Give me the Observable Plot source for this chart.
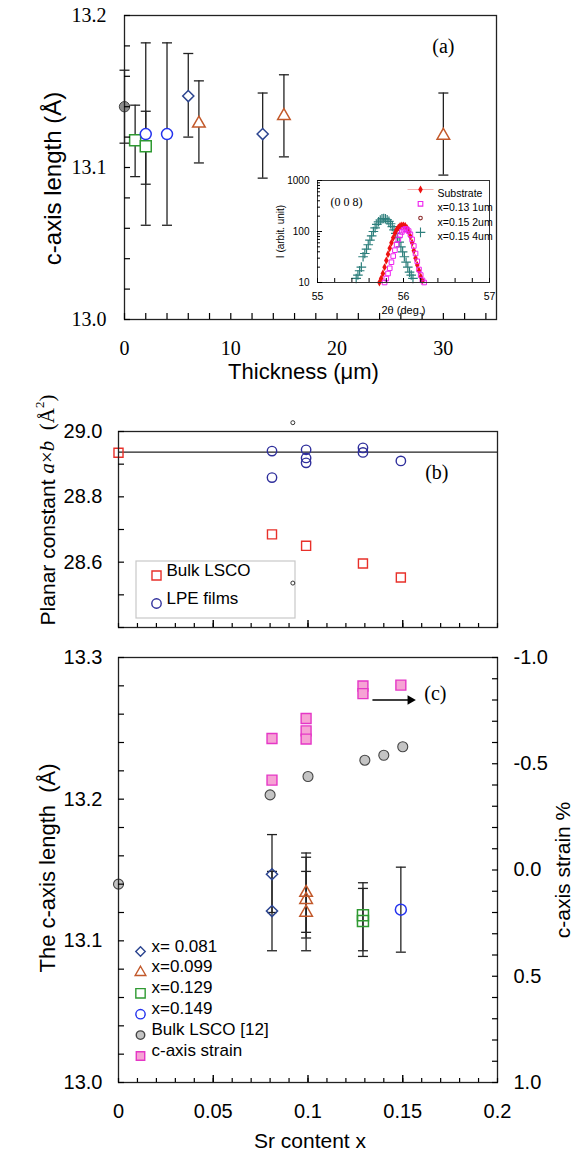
<!DOCTYPE html>
<html><head><meta charset="utf-8">
<script src="https://cdn.jsdelivr.net/npm/d3@7"></script>
<script src="https://cdn.jsdelivr.net/npm/@observablehq/plot@0.6"></script>
<style>
body{margin:0;background:#fff;}
#wrap{position:relative;width:578px;height:1160px;overflow:hidden;background:#fff;}
#wrap svg{position:absolute;overflow:visible;background:transparent;}
</style></head><body><div id="wrap"></div>
<script>
// ---------- Panel (a): c-axis length vs thickness ----------
const aThickness = [0, 1, 2, 2, 4, 6, 7, 13, 15, 30];
const aC    = [13.140, 13.118, 13.114, 13.122, 13.122, 13.147, 13.129, 13.122, 13.134, 13.121];
const aLow  = [13.116, 13.094, 13.089, 13.062, 13.062, 13.120, 13.103, 13.093, 13.107, 13.095];
const aHigh = [13.164, 13.141, 13.137, 13.182, 13.182, 13.175, 13.157, 13.149, 13.161, 13.149];
const aGroup = ["Bulk LSCO [12]", "x=0.129", "x=0.129", "x=0.149", "x=0.149", "x= 0.081", "x=0.099", "x= 0.081", "x=0.099", "x=0.099"];

// ---------- Inset: (0 0 8) peak ----------
const subX = [55.72,55.74,55.76,55.78,55.80,55.82,55.84,55.86,55.88,55.90,55.92,55.94,55.96,55.98,56.00,56.02,56.04,56.06,56.08,56.10,56.12,56.14,56.16,56.18,56.20,56.22];
const subY = [10,12,15,20,27,36,47,60,75,92,108,120,128,132,132,128,118,100,80,60,42,30,22,17,13,11];
const magX = [55.78,55.80,55.82,55.84,55.86,55.88,55.90,55.92,55.94,55.96,55.98,56.00,56.02,56.04,56.06,56.08,56.10,56.12,56.14,56.16,56.18,56.20,56.22,56.24];
const magY = [10,12,15,19,25,33,43,55,70,85,98,108,112,110,102,88,70,52,37,26,18,14,11,10];
const tealX = [55.45,55.47,55.49,55.51,55.53,55.55,55.57,55.59,55.61,55.63,55.65,55.67,55.69,55.71,55.73,55.75,55.77,55.79,55.81,55.83,55.85,55.87,55.89,55.91,55.93,55.95,55.97,55.99,56.01,56.03,56.05,56.07,56.09,56.11];
const tealY = [12,14,17,20,32,37,45,55,68,82,100,118,138,155,168,178,180,178,170,158,142,125,108,92,76,62,50,40,32,25,20,16,14,12];
const insetLegend = ["Substrate", "x=0.13 1um", "x=0.15 2um", "x=0.15 4um"];

// ---------- Panel (b): planar constant ----------
const bBulkX = [0, 0.081, 0.099, 0.129, 0.149];
const bBulkY = [28.935, 28.685, 28.650, 28.596, 28.553];
const bFilmX = [0.081, 0.081, 0.099, 0.099, 0.099, 0.129, 0.129, 0.149];
const bFilmY = [28.940, 28.859, 28.944, 28.919, 28.904, 28.950, 28.936, 28.910];
const bRefLine = [28.937];
const bSmallX = [0.092, 0.092];
const bSmallY = [29.027, 28.536];
const bLegend = ["Bulk LSCO", "LPE films"];

// ---------- Panel (c): c-axis length & strain vs Sr content ----------
const cX    = [0.081, 0.081, 0.099, 0.099, 0.099, 0.129, 0.129, 0.149];
const cC    = [13.147, 13.121, 13.134, 13.129, 13.120, 13.118, 13.114, 13.122];
const cLow  = [13.120, 13.093, 13.106, 13.102, 13.093, 13.093, 13.089, 13.092];
const cHigh = [13.175, 13.149, 13.162, 13.159, 13.149, 13.141, 13.137, 13.152];
const cGroup = ["x= 0.081", "x= 0.081", "x=0.099", "x=0.099", "x=0.099", "x=0.129", "x=0.129", "x=0.149"];
const cBulkX = [0, 0.08, 0.10, 0.13, 0.14, 0.15];
const cBulkC = [13.140, 13.203, 13.216, 13.2275, 13.231, 13.237];
const strainX = [0.081, 0.081, 0.099, 0.099, 0.099, 0.129, 0.129, 0.149];
const strainVal = [-0.619, -0.423, -0.713, -0.655, -0.616, -0.866, -0.830, -0.870];
const arrowX = [0.134, 0.157];
const arrowC = [13.270];
const cLegend = ["x= 0.081", "x=0.099", "x=0.129", "x=0.149", "Bulk LSCO [12]", "c-axis strain"];
const strainTicks = [-1.0, -0.5, 0.0, 0.5, 1.0];

// ---------- styles ----------
const SANS = "Liberation Sans, Arial, sans-serif";
const SERIF = "Liberation Serif, Times New Roman, serif";
const sty = {
  "x= 0.081": {symbol: "diamond2", stroke: "#2c4590", fill: "none", r: 5},
  "x=0.099": {symbol: "triangle2", stroke: "#c2592b", fill: "none", r: 6},
  "x=0.129": {symbol: "square", stroke: "#2f9a32", fill: "none", r: 6.2},
  "x=0.149": {symbol: "circle", stroke: "#2433ee", fill: "none", r: 5.5},
  "Bulk LSCO [12]": {symbol: "circle", stroke: "#444", fill: "#c4c4c4", r: 5},
  "c-axis strain": {symbol: "square", stroke: "#e537c6", fill: "#f6a3d4", r: 5.6}
};
const cap = {draw(ctx, size) { const w = Math.sqrt(size / Math.PI); ctx.moveTo(-w, 0); ctx.lineTo(w, 0); }};
const wrap = document.getElementById("wrap");
function place(svg, left, top) { svg.style.left = left + "px"; svg.style.top = top + "px"; wrap.appendChild(svg); }

// strain <-> c-axis mapping for the right axis of (c)
const s2c = s => 13.15 - 0.15 * s;

// ===== Panel (a) =====
const aRows = aThickness.map((t, i) => ({t, c: aC[i], lo: aLow[i], hi: aHigh[i], g: aGroup[i]}));
const aGroupsOrder = ["x=0.129", "x=0.149", "x= 0.081", "x=0.099"];
const plotA = Plot.plot({
  width: 578, height: 395,
  marginLeft: 124, marginRight: 82, marginTop: 15, marginBottom: 76,
  x: {domain: [0, 35]}, y: {domain: [13.0, 13.2]},
  style: {fontFamily: SERIF, fontSize: "20px", background: "transparent", overflow: "visible"},
  marks: [
    Plot.ruleX(aRows, {x: "t", y1: "lo", y2: "hi", stroke: "#222", strokeWidth: 1.3}),
    Plot.dot(aRows, {x: "t", y: "lo", symbol: cap, r: 5, stroke: "#222", fill: "none", strokeWidth: 1.3}),
    Plot.dot(aRows, {x: "t", y: "hi", symbol: cap, r: 5, stroke: "#222", fill: "none", strokeWidth: 1.3}),
    Plot.dot(aRows.filter(d => d.g === "Bulk LSCO [12]"), {x: "t", y: "c", symbol: "circle", r: 5.2, fill: "#8c8c8c", stroke: "#444", strokeWidth: 1}),
    ...aGroupsOrder.map(g => Plot.dot(aRows.filter(d => d.g === g), {x: "t", y: "c", symbol: sty[g].symbol, r: sty[g].r, stroke: sty[g].stroke, fill: "white", strokeWidth: 1.5})),
    Plot.frame({stroke: "#222", strokeWidth: 1.3}),
    Plot.axisY({ticks: [13.0, 13.1, 13.2], tickSize: 0, tickPadding: 18, tickFormat: d => d.toFixed(1), label: null, fontSize: 20, fontFamily: SERIF}),
    Plot.axisY({ticks: d3.range(0, 11).map(i => 13 + i * 0.02), tickSize: 6, dx: 6, tickFormat: () => "", label: null, strokeWidth: 1.2}),
    Plot.axisX({ticks: [0, 10, 20, 30], tickSize: 0, tickPadding: 21, label: null, fontSize: 20, fontFamily: SERIF}),
    Plot.axisX({ticks: d3.range(0, 35.001, 2), tickSize: 6, dy: -6, tickFormat: () => "", label: null, strokeWidth: 1.2}),
    Plot.text(["(a)"], {text: d => d, frameAnchor: "top-right", dx: -42, dy: 23, fontSize: 20, fontFamily: SERIF}),
    Plot.text(["c-axis length (Å)"], {text: d => d, frameAnchor: "left", textAnchor: "middle", dx: -71, dy: 11, rotate: -90, fontSize: 24, fontFamily: SANS}),
    Plot.text(["Thickness (μm)"], {text: d => d, frameAnchor: "bottom", textAnchor: "middle", dx: -7, dy: 59, fontSize: 22, fontFamily: SANS})
  ]
});
place(plotA, 0, 0);

// ===== Inset =====
const subRows = subX.map((x, i) => ({x, y: subY[i]}));
const magRows = magX.map((x, i) => ({x, y: magY[i]}));
const tealRows = tealX.map((x, i) => ({x, y: tealY[i]}));
const logMinor = [20,30,40,50,60,70,80,90,200,300,400,500,600,700,800,900];
const insetSym = [
  {symbol: "diamond", fill: "#ee1111", stroke: "none", r: 2.4},
  {symbol: "square", fill: "none", stroke: "#ee22ee", r: 2.6},
  {symbol: "circle", fill: "none", stroke: "#8b2a2a", r: 1.8},
  {symbol: "plus", fill: "none", stroke: "#2d7f7c", r: 3.2}
];
const plotInset = Plot.plot({
  width: 250, height: 150,
  marginLeft: 67, marginRight: 11, marginTop: 10, marginBottom: 38,
  x: {domain: [55, 57]}, y: {type: "log", domain: [10, 1000]},
  style: {fontFamily: SANS, fontSize: "10px", background: "transparent", overflow: "visible"},
  marks: [
    Plot.line(subRows, {x: "x", y: "y", stroke: "#f6b0b0", strokeWidth: 1}),
    Plot.dot(tealRows, {x: "x", y: "y", symbol: "plus", r: 3.2, stroke: "#2d7f7c", strokeWidth: 1.2}),
    Plot.dot(subRows, {x: "x", y: "y", symbol: "diamond", r: 2.4, fill: "#ee1111"}),
    Plot.dot(magRows, {x: "x", y: "y", symbol: "square", r: 2.6, stroke: "#ee22ee", fill: "none", strokeWidth: 1}),
    Plot.frame({stroke: "#333", strokeWidth: 1}),
    Plot.axisY({ticks: [10, 100, 1000], tickSize: 0, tickPadding: 8, tickFormat: d => String(d), label: null, fontSize: 10}),
    Plot.axisY({ticks: [10, 100, 1000], tickSize: 5, dx: 5, tickFormat: () => "", label: null}),
    Plot.axisY({ticks: logMinor, tickSize: 3, dx: 3, tickFormat: () => "", label: null}),
    Plot.axisX({ticks: [55, 56, 57], tickSize: 0, tickPadding: 10, tickFormat: d => String(d), label: null, fontSize: 10.5}),
    Plot.axisX({ticks: d3.range(0, 11).map(i => 55 + i * 0.2), tickSize: 4, dy: -4, tickFormat: () => "", label: null}),
    Plot.text(["(0 0 8)"], {text: d => d, frameAnchor: "top-left", textAnchor: "start", dx: 13, dy: 17, fontSize: 12, fontFamily: SERIF}),
    Plot.text(["2θ (deg.)"], {text: d => d, frameAnchor: "bottom", textAnchor: "middle", dy: 31, fontSize: 11}),
    Plot.text(["I (arbit. unit)"], {text: d => d, frameAnchor: "left", textAnchor: "middle", dx: -37, rotate: -90, fontSize: 10}),
    Plot.dot([0], {frameAnchor: "top-left", dx: 103, dy: 9, symbol: cap, r: 13, stroke: "#f6b0b0", fill: "none", strokeWidth: 1}),
    ...insetLegend.map((label, i) => Plot.dot([label], {frameAnchor: "top-left", dx: 103, dy: 9 + i * 14.3, symbol: insetSym[i].symbol, r: insetSym[i].r, fill: insetSym[i].fill, stroke: insetSym[i].stroke, strokeWidth: 1.1})),
    ...insetLegend.map((label, i) => Plot.text([label], {text: d => d, frameAnchor: "top-left", textAnchor: "start", dx: 120, dy: 9 + i * 14.3, fontSize: 10.5}))
  ]
});
place(plotInset, 250, 170);

// ===== Panel (b) =====
const bBulk = bBulkX.map((x, i) => ({x, y: bBulkY[i]}));
const bFilm = bFilmX.map((x, i) => ({x, y: bFilmY[i]}));
const bSmall = bSmallX.map((x, i) => ({x, y: bSmallY[i]}));
const bSym = [{symbol: "square", stroke: "#e8302a", r: 5.1}, {symbol: "circle", stroke: "#2f2f9c", r: 4.7}];
const plotB = Plot.plot({
  width: 578, height: 250,
  marginLeft: 118, marginRight: 81, marginTop: 41, marginBottom: 13,
  x: {domain: [0, 0.2]}, y: {domain: [28.4, 29.0]},
  clip: false,
  style: {fontFamily: SANS, fontSize: "20px", background: "transparent", overflow: "visible"},
  marks: [
    Plot.ruleY(bRefLine, {stroke: "#222", strokeWidth: 1.4}),
    Plot.dot(bSmall, {x: "x", y: "y", r: 2, stroke: "#333", fill: "none", strokeWidth: 1}),
    Plot.dot(bBulk, {x: "x", y: "y", symbol: "square", r: 5.1, stroke: "#e8302a", fill: "none", strokeWidth: 1.4}),
    Plot.dot(bFilm, {x: "x", y: "y", symbol: "circle", r: 4.7, stroke: "#2f2f9c", fill: "none", strokeWidth: 1.4}),
    Plot.frame({stroke: "#222", strokeWidth: 1.3}),
    Plot.axisY({ticks: [28.6, 28.8, 29.0], tickSize: 0, tickPadding: 16, tickFormat: d => d.toFixed(1), label: null, fontSize: 20}),
    Plot.axisY({ticks: d3.range(0, 7).map(i => 28.4 + i * 0.1), tickSize: 6, dx: 6, tickFormat: () => "", label: null, strokeWidth: 1.2}),
    Plot.axisX({ticks: d3.range(0, 21).map(i => i * 0.01), tickSize: 4, dy: -4, tickFormat: () => "", label: null, strokeWidth: 1.2}),
    Plot.axisX({ticks: [0.05, 0.1, 0.15], tickSize: 7, dy: -7, tickFormat: () => "", label: null, strokeWidth: 1.4}),
    Plot.text(["(b)"], {text: d => d, frameAnchor: "top-right", dx: -49, dy: 33, fontSize: 20, fontFamily: SERIF}),
    ...bLegend.map((label, i) => Plot.dot([label], {frameAnchor: "bottom-left", dx: 38, dy: -52 + i * 28, symbol: bSym[i].symbol, r: bSym[i].r, stroke: bSym[i].stroke, fill: "none", strokeWidth: 1.4})),
    ...bLegend.map((label, i) => Plot.text([label], {text: d => d, frameAnchor: "bottom-left", textAnchor: "start", dx: 48, dy: -52 + i * 28, fontSize: 17}))
  ]
});
// legend box and mixed-style y title
{
  const s = d3.select(plotB);
  s.insert("rect", ":first-child").attr("x", 136).attr("y", 171).attr("width", 159).attr("height", 57)
    .attr("fill", "none").attr("stroke", "#c8c8c8").attr("stroke-width", 1.2);
  const t = s.append("text").attr("transform", "translate(49,120) rotate(-90)")
    .attr("text-anchor", "middle").attr("dominant-baseline", "middle").attr("font-size", 21).attr("fill", "#000");
  t.append("tspan").attr("font-family", SANS).text("Planar constant ");
  t.append("tspan").attr("font-family", SERIF).attr("font-style", "italic").text("a");
  t.append("tspan").attr("font-family", SERIF).text("×");
  t.append("tspan").attr("font-family", SERIF).attr("font-style", "italic").text("b");
  t.append("tspan").attr("font-family", SERIF).text("  (Å");
  t.append("tspan").attr("font-family", SERIF).attr("font-size", 13).attr("dy", -8).text("2");
  t.append("tspan").attr("font-family", SERIF).attr("dy", 8).text(")");
}
place(plotB, 0, 390);

// ===== Panel (c) =====
const cRows = cX.map((x, i) => ({x, c: cC[i], lo: cLow[i], hi: cHigh[i], g: cGroup[i]}));
const cBulk = cBulkX.map((x, i) => ({x, c: cBulkC[i]}));
const strainRows = strainX.map((x, i) => ({x, c: s2c(strainVal[i])}));
const arrowRows = [{x1: arrowX[0], x2: arrowX[1], c: arrowC[0]}];
const plotC = Plot.plot({
  width: 578, height: 520,
  marginLeft: 118, marginRight: 81, marginTop: 17, marginBottom: 78,
  x: {domain: [0, 0.2]}, y: {domain: [13.0, 13.3]},
  style: {fontFamily: SANS, fontSize: "20px", background: "transparent", overflow: "visible"},
  marks: [
    Plot.ruleX(cRows, {x: "x", y1: "lo", y2: "hi", stroke: "#222", strokeWidth: 1.3}),
    Plot.dot(cRows, {x: "x", y: "lo", symbol: cap, r: 5, stroke: "#222", fill: "none", strokeWidth: 1.3}),
    Plot.dot(cRows, {x: "x", y: "hi", symbol: cap, r: 5, stroke: "#222", fill: "none", strokeWidth: 1.3}),
    ...["x= 0.081", "x=0.099", "x=0.129", "x=0.149"].map(g => Plot.dot(cRows.filter(d => d.g === g), {x: "x", y: "c", symbol: sty[g].symbol, r: sty[g].r, stroke: sty[g].stroke, fill: "none", strokeWidth: 1.5})),
    Plot.dot(cBulk, {x: "x", y: "c", symbol: "circle", r: 5, fill: "#c4c4c4", stroke: "#444", strokeWidth: 1.1}),
    Plot.dot(strainRows, {x: "x", y: "c", symbol: "square", r: 5.6, fill: "#f6a3d4", stroke: "#e537c6", strokeWidth: 1.4}),
    Plot.link(arrowRows, {x1: "x1", x2: d => d.x2 - 0.004, y1: "c", y2: "c", stroke: "#000", strokeWidth: 1.5}),
    Plot.dot(arrowRows, {x: d => d.x2 - 0.003, y: "c", symbol: "triangle2", rotate: 90, r: 4.6, fill: "#000"}),
    Plot.frame({stroke: "#222", strokeWidth: 1.3}),
    Plot.axisY({ticks: [13.0, 13.1, 13.2, 13.3], tickSize: 0, tickPadding: 16, tickFormat: d => d.toFixed(1), label: null, fontSize: 20}),
    Plot.axisY({ticks: d3.range(0, 16).map(i => 13 + i * 0.02), tickSize: 6, dx: 6, tickFormat: () => "", label: null, strokeWidth: 1.2}),
    Plot.axisY({anchor: "right", ticks: strainTicks.map(s2c), tickSize: 0, tickPadding: 16,
      tickFormat: c => { const s = Math.round((13.15 - c) / 0.15 * 10) / 10; return (s === 0 ? 0 : s).toFixed(1); }, label: null, fontSize: 20}),
    Plot.axisY({anchor: "right", ticks: d3.range(0, 21).map(i => s2c(-1 + i * 0.1)), tickSize: 6, dx: -6, tickFormat: () => "", label: null, strokeWidth: 1.2}),
    Plot.axisX({ticks: [0, 0.05, 0.1, 0.15, 0.2], tickSize: 0, tickPadding: 21, tickFormat: d => String(d), label: null, fontSize: 20}),
    Plot.axisX({ticks: d3.range(0, 21).map(i => i * 0.01), tickSize: 4, dy: -4, tickFormat: () => "", label: null, strokeWidth: 1.2}),
    Plot.axisX({ticks: [0.05, 0.1, 0.15], tickSize: 7, dy: -7, tickFormat: () => "", label: null, strokeWidth: 1.4}),
    Plot.text(["(c)"], {text: d => d, frameAnchor: "top-right", dx: -51, dy: 28, fontSize: 20, fontFamily: SERIF}),
    Plot.text(["The c-axis length  (Å)"], {text: d => d, frameAnchor: "left", textAnchor: "middle", dx: -71, dy: -2, rotate: -90, fontSize: 22}),
    Plot.text(["c-axis strain %"], {text: d => d, frameAnchor: "right", textAnchor: "middle", dx: 66, dy: 0, rotate: -90, fontSize: 21}),
    Plot.text(["Sr content x"], {text: d => d, frameAnchor: "bottom", textAnchor: "middle", dx: 2, dy: 65, fontSize: 21}),
    ...cLegend.map((label, i) => Plot.dot([label], {frameAnchor: "bottom-left", dx: 22, dy: -131 + i * 20.9,
      symbol: sty[label].symbol, r: sty[label].r * 0.85, stroke: sty[label].stroke, fill: sty[label].fill, strokeWidth: 1.4})),
    ...cLegend.map((label, i) => Plot.text([label], {text: d => d, frameAnchor: "bottom-left", textAnchor: "start", dx: 33, dy: -131 + i * 20.9, fontSize: 17}))
  ]
});
place(plotC, 0, 640);
</script>
</body></html>
